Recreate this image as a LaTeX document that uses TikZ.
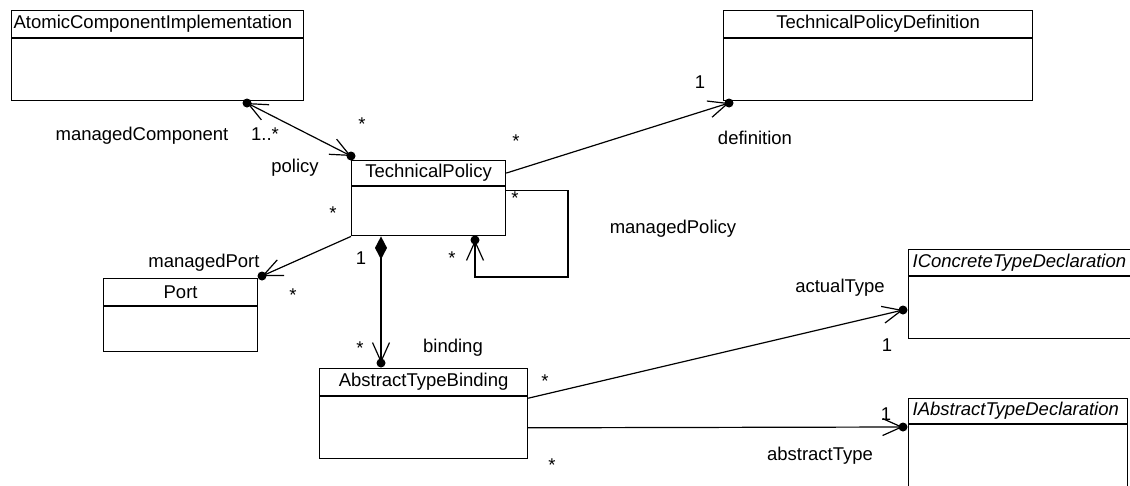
\documentclass[tikz,border=0pt]{standalone}
\usepackage{fontspec}
\setmainfont{Liberation Sans}
\usetikzlibrary{arrows.meta,positioning}

\begin{document}
\begin{tikzpicture}[x=1pt, y=-1pt, font=\fontsize{18.5}{22}\selectfont, line width=1.2pt]
    \tikzstyle{umlhead} = [draw, rectangle, inner sep=0pt, minimum height=27pt, anchor=north west]
    \tikzstyle{umlbody} = [draw, rectangle, inner sep=0pt]
    \tikzstyle{enddot} = [circle, fill, inner sep=0pt, minimum size=9pt]
    \tikzstyle{nav} = [-{Straight Barb[length=19pt,width=17pt]}]
    \tikzstyle{navboth} = [{Straight Barb[length=19pt,width=17pt]}-{Straight Barb[length=19pt,width=17pt]}]
    \tikzstyle{compose} = [{Diamond[length=23pt,width=12pt]}-{Straight Barb[length=19pt,width=17pt]}]

    \useasboundingbox (0,0) rectangle (1130,485);
    \clip (0,0) rectangle (1130,485);

    % classes
    \node (acih) [umlhead, minimum width=292pt, text width=288pt, align=left] at (11,10) {AtomicComponentImplementation};
    \node (acib) [umlbody, minimum width=292pt, minimum height=62pt, below=0pt of acih] {};
    \node (tpdh) [umlhead, minimum width=309pt] at (723,10) {TechnicalPolicyDefinition};
    \node (tpdb) [umlbody, minimum width=309pt, minimum height=62pt, below=0pt of tpdh] {};
    \node (tph) [umlhead, minimum width=154pt, minimum height=25pt] at (351,160) {TechnicalPolicy};
    \node (tpb) [umlbody, minimum width=154pt, minimum height=49pt, below=0pt of tph] {};
    \node (porth) [umlhead, minimum width=154pt] at (103,278) {Port};
    \node (portb) [umlbody, minimum width=154pt, minimum height=45pt, below=0pt of porth] {};
    \node (atbh) [umlhead, minimum width=208pt] at (319,368) {AbstractTypeBinding};
    \node (atbb) [umlbody, minimum width=208pt, minimum height=62pt, below=0pt of atbh] {};
    \node (icth) [umlhead, minimum width=230pt, minimum height=26pt, text width=222pt, align=left] at (908,249) {\itshape IConcreteTypeDeclaration};
    \node (ictb) [umlbody, minimum width=230pt, minimum height=62pt, below=0pt of icth] {};
    \node (iath) [umlhead, minimum width=219pt, minimum height=25pt, text width=211pt, align=left] at (908,398) {\itshape IAbstractTypeDeclaration};
    \node (iatb) [umlbody, minimum width=219pt, minimum height=80pt, below=0pt of iath] {};

    % association ends
    \node (dA) [enddot] at (247,103) {};
    \node (dB) [enddot] at (351,156) {};
    \node (dC) [enddot] at (729,103) {};
    \node (dD) [enddot] at (475,240) {};
    \node (dE) [enddot] at (262,276) {};
    \node (dF) [enddot] at (381,363) {};
    \node (dG) [enddot] at (903,310) {};
    \node (dH) [enddot] at (903,427) {};
    \coordinate (loop) at (568,277);

    % associations
    \draw [navboth] (dA.center) -- (dB.center);
    \draw [nav] (tph.east) -- (dC.center);
    \draw [nav] ([yshift=-4pt]tpb.north east) -| (loop) -| (dD.center);
    \draw [nav] (tpb.south west) -- (dE.center);
    \draw [compose] ([xshift=30pt]tpb.south west) -- (dF.center);
    \draw [nav] ([yshift=-2pt]atbh.south east) -- (dG.center);
    \draw [nav] (atbb.east) -- (dH.center);

    % role names and multiplicities
    \node (lmcomp) at (142,136) {managedComponent};
    \node (lmcompm) at (265,134) {1..*};
    \node (lpolm) at (362,124) {*};
    \node (lpol) at (295,168) {policy};
    \node (ldefs) at (516,141) {*};
    \node (ldefm) at (700,82) {1};
    \node (ldef) at (755,138) {definition};
    \node (lmpols) at (515,198) {*};
    \node (lmpolm) at (452,258) {*};
    \node (lmpol) at (673,229) {managedPolicy};
    \node (lmport) at (204,263) {managedPort};
    \node (lmportm) at (293,295) {*};
    \node (lmports) at (333,213) {*};
    \node (lbinds) at (361,258) {1};
    \node (lbindm) at (360,348) {*};
    \node (lbind) at (453,348) {binding};
    \node (lacts) at (545,381) {*};
    \node (lact) at (840,288) {actualType};
    \node (lactm) at (887,345) {1};
    \node (labsm) at (886,414) {1};
    \node (labs) at (820,456) {abstractType};
    \node (labss) at (552,465) {*};
\end{tikzpicture}
\end{document}
